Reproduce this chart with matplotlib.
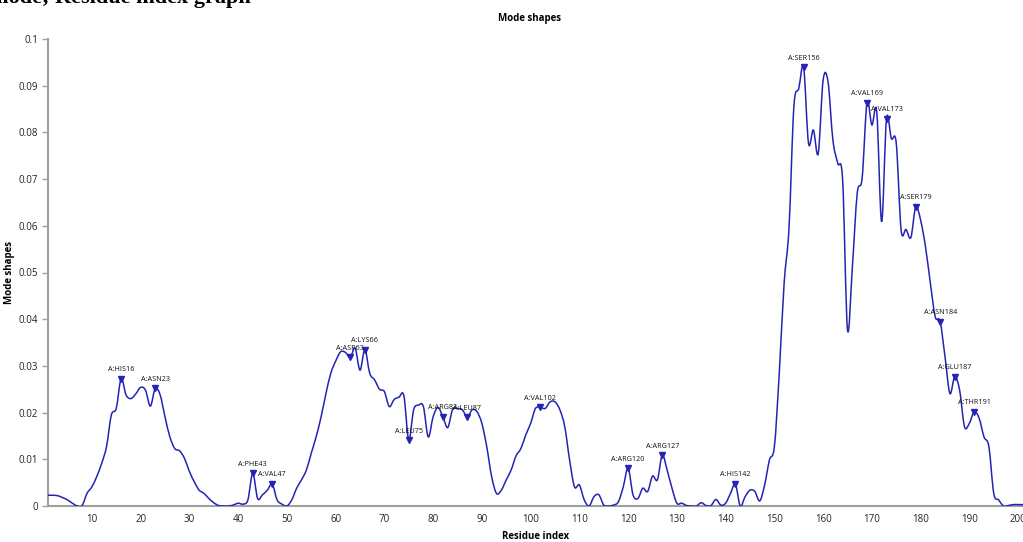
import matplotlib
matplotlib.use('Agg')
import matplotlib.pyplot as plt
from matplotlib.path import Path
from matplotlib.patches import PathPatch

# ── Data: mode shape per residue ─────────────────────────────────────────────
residues = list(range(1, 202))
mode_shape = [
    0.0023, 0.0023, 0.0022, 0.0018, 0.0013, 0.0006, 0.0000, 0.0001, 0.0027, 0.0041,
    0.0063, 0.0091, 0.0127, 0.0195, 0.0209, 0.0273, 0.0238, 0.0230, 0.0240, 0.0254,
    0.0248, 0.0214, 0.0252, 0.0238, 0.0191, 0.0148, 0.0123, 0.0118, 0.0102, 0.0074,
    0.0052, 0.0034, 0.0027, 0.0016, 0.0007, 0.0001, 0.0000, 0.0000, 0.0002, 0.0006,
    0.0004, 0.0013, 0.0070, 0.0016, 0.0024, 0.0034, 0.0047, 0.0013, 0.0004, 0.0000,
    0.0013, 0.0038, 0.0056, 0.0077, 0.0113, 0.0148, 0.0190, 0.0240, 0.0284, 0.0310,
    0.0330, 0.0329, 0.0318, 0.0338, 0.0291, 0.0335, 0.0284, 0.0270, 0.0250, 0.0245,
    0.0213, 0.0228, 0.0233, 0.0236, 0.0141, 0.0206, 0.0216, 0.0213, 0.0148, 0.0191,
    0.0211, 0.0191, 0.0168, 0.0207, 0.0209, 0.0206, 0.0190, 0.0206, 0.0202, 0.0177,
    0.0127, 0.0063, 0.0027, 0.0034, 0.0056, 0.0077, 0.0107, 0.0123, 0.0152, 0.0177,
    0.0209, 0.0211, 0.0209, 0.0223, 0.0223, 0.0206, 0.0170, 0.0098, 0.0041, 0.0045,
    0.0013, 0.0000, 0.0020, 0.0024, 0.0002, 0.0000, 0.0002, 0.0009, 0.0041, 0.0081,
    0.0024, 0.0016, 0.0038, 0.0031, 0.0064, 0.0056, 0.0109, 0.0077, 0.0038, 0.0006,
    0.0006, 0.0001, 0.0000, 0.0000, 0.0007, 0.0001, 0.0001, 0.0014, 0.0002, 0.0006,
    0.0027, 0.0047, 0.0000, 0.0020, 0.0034, 0.0031, 0.0011, 0.0045, 0.0099, 0.0127,
    0.0284, 0.0477, 0.0595, 0.0855, 0.0894, 0.0939, 0.0777, 0.0805, 0.0755, 0.0912,
    0.0909, 0.0784, 0.0734, 0.0698, 0.0377, 0.0512, 0.0670, 0.0702, 0.0864, 0.0816,
    0.0844, 0.0609, 0.0829, 0.0787, 0.0777, 0.0591, 0.0592, 0.0575, 0.0641, 0.0612,
    0.0555, 0.0477, 0.0405, 0.0395, 0.0320, 0.0241, 0.0277, 0.0248, 0.0170, 0.0177,
    0.0202, 0.0188, 0.0148, 0.0127, 0.0027, 0.0013, 0.0000, 0.0001, 0.0003, 0.0003,
    0.0003,
]

# labelled residues
peak_res = [16, 23, 43, 47, 63, 66, 75, 82, 87, 102, 120, 127, 142,
            156, 169, 173, 179, 184, 187, 191]
peak_names = ["A:HIS16", "A:ASN23", "A:PHE43", "A:VAL47", "A:ASP63", "A:LYS66",
              "A:LEU75", "A:ARG82", "A:LEU87", "A:VAL102", "A:ARG120", "A:ARG127",
              "A:HIS142", "A:SER156", "A:VAL169", "A:VAL173", "A:SER179",
              "A:ASN184", "A:GLU187", "A:THR191"]

x_ticks = list(range(10, 201, 10))
y_ticks = [0, 0.01, 0.02, 0.03, 0.04, 0.05, 0.06, 0.07, 0.08, 0.09, 0.1]
y_labels = ["0", "0.01", "0.02", "0.03", "0.04", "0.05", "0.06", "0.07", "0.08", "0.09", "0.1"]

LINE = "#2424b4"
AXIS = "#a0a0a0"

plt.rcParams["font.family"] = ["Open Sans", "DejaVu Sans"]

fig = plt.figure(figsize=(10.23, 5.42), dpi=100, facecolor="white")
ax = fig.add_axes([48 / 1023, 36 / 542, 975 / 1023, 467 / 542])


def smooth_path(xs, ys):
    """Catmull-Rom curve through the data points, as cubic Bezier segments."""
    verts = [(xs[0], ys[0])]
    codes = [Path.MOVETO]
    n = len(xs)
    for i in range(n - 1):
        x0, y0 = (xs[i - 1], ys[i - 1]) if i > 0 else (xs[i], ys[i])
        x1, y1 = xs[i], ys[i]
        x2, y2 = xs[i + 1], ys[i + 1]
        x3, y3 = (xs[i + 2], ys[i + 2]) if i + 2 < n else (x2, y2)
        verts += [(x1 + (x2 - x0) / 6, y1 + (y2 - y0) / 6),
                  (x2 - (x3 - x1) / 6, y2 - (y3 - y1) / 6),
                  (x2, y2)]
        codes += [Path.CURVE4] * 3
    return Path(verts, codes)


ax.add_patch(PathPatch(smooth_path(residues, mode_shape), facecolor="none",
                       edgecolor=LINE, linewidth=1.1, zorder=3))

# markers + labels
for r, name in zip(peak_res, peak_names):
    v = mode_shape[r - 1]
    ax.plot([r], [v], marker="v", color=LINE, markersize=4.5,
            linestyle="none", zorder=4)
    ax.annotate(name, (r, v), xytext=(0, 4), textcoords="offset points",
                ha="center", va="bottom", fontsize=5.2, color="#111111")

ax.set_xlim(1, 201)
ax.set_ylim(0, 0.1)
ax.set_xticks(x_ticks)
ax.set_yticks(y_ticks)
ax.set_yticklabels(y_labels)
ax.tick_params(axis="x", length=0, labelsize=7, pad=6, colors="#222222")
ax.tick_params(axis="y", length=4, width=1, color=AXIS, labelsize=7,
               labelcolor="#222222", pad=3)

for s in ("top", "right"):
    ax.spines[s].set_visible(False)
for s in ("left", "bottom"):
    ax.spines[s].set_color(AXIS)
    ax.spines[s].set_linewidth(1.5)

ax.set_xlabel("Residue index", fontsize=7, fontweight="bold", labelpad=4)
ax.set_ylabel("Mode shapes", fontsize=7, fontweight="bold")
ax.yaxis.set_label_coords(-33 / 975, 0.5)
fig.text(530 / 1023, 1 - 18 / 542, "Mode shapes", ha="center", va="center",
         fontsize=7, fontweight="bold")

# page heading cut off at the top of the screenshot
fig.text(-0.01, 1 - 3 / 542, "mode; Residue index graph", ha="left",
         va="baseline", fontsize=16, fontweight="bold", family="Liberation Serif")

fig.savefig("out.png", dpi=100, facecolor="white")
